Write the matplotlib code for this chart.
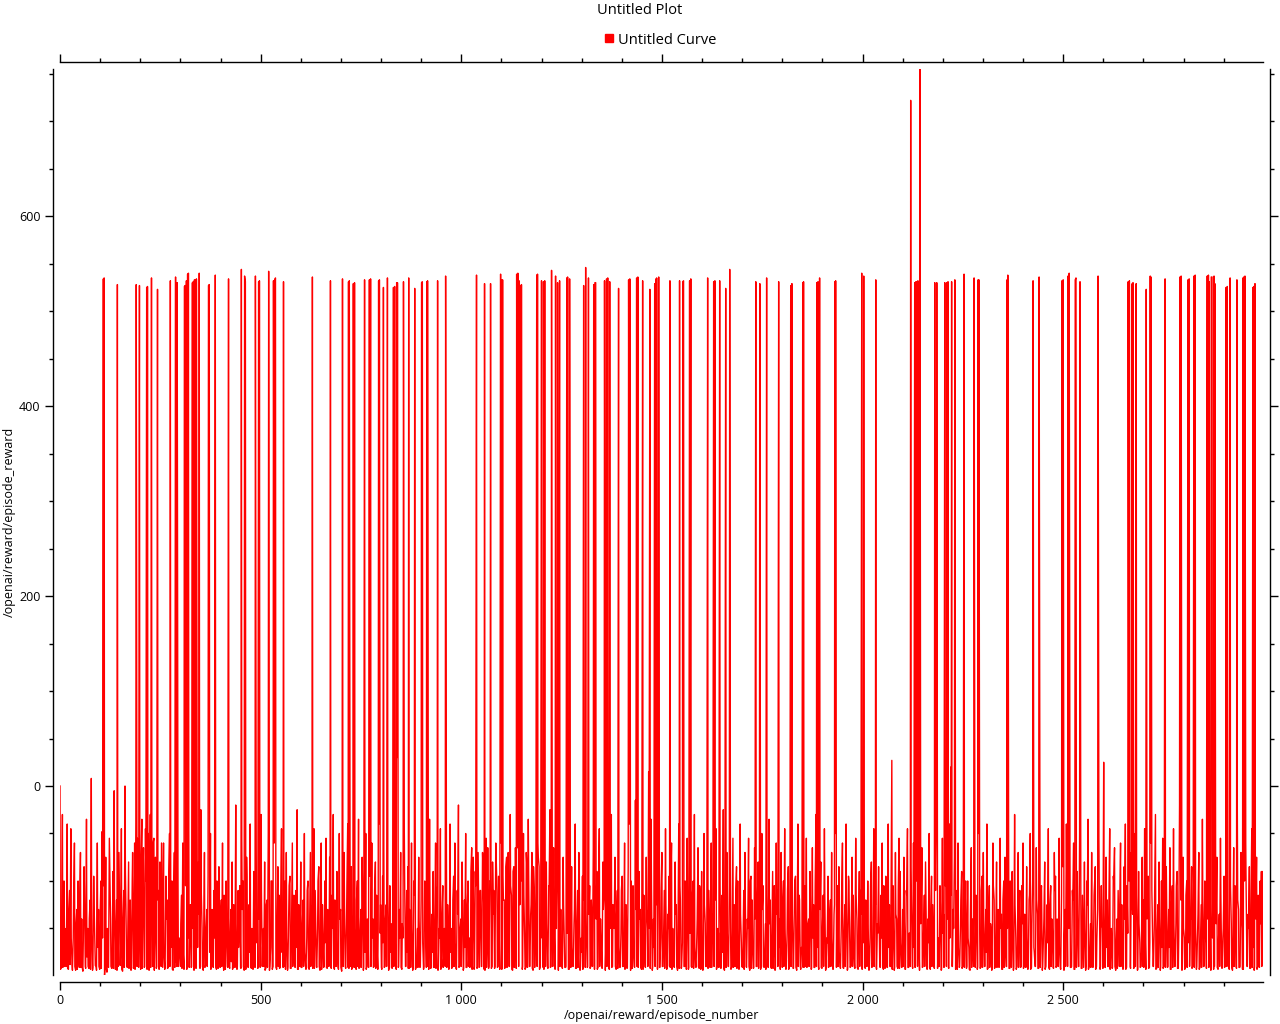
import matplotlib
matplotlib.use("Agg")
import matplotlib.pyplot as plt
import numpy as np
from matplotlib.lines import Line2D
from matplotlib.ticker import FuncFormatter, MultipleLocator

BASE_STEP = 3

rewards_a = [
    0, -192, -30, -120, -190, -150, -40, -193, -110, -45, -188, -160, -60, -194, -130, -100, -191, -70, -140, -195,
    -85, -190, -35, -150, -192, -120, 8, -194, -95, -170, -190, -60, -130, -193, -100, -48, -191, -199, -75, -196,
    -190, -55, -140, -192, -90, -5, -193, -120, -160, -70, -189, -45, -195, -110, 0, -150, -191, -80, -130, -194,
    -100, -192, -60, -40, -190, -130, -50, -193, -35, -90, -191, -45, -120, -60, -194, -30, -70, -190, -55, -140,
    -192, -40, -110, -80, -190, -150, -60, -193, -95, -120, -191, -50, -170, -100, -194, -70, -140, -190, -85, -160,
    -190, -115, -60, -193, -140, -90, -195, -45, -130, -191, -100, -170, -60, -192, -120, -80, -190, -25, -150, -194,
    -70, -189, -130, -95, -192, -50, -160, -190, -110, -35, -193, -140, -85, -191, -120, -60, -194, -150, -100, -190,
    -45, -192, -130, -80, -190, -165, -20, -193, -110, -140, -191, -55, -100, -194, -150, -75, -190, -125, -40, -192,
    -160, -90, -191, -65, -135, -193, -105, -30, -190, -150, -80, -192, -120, -50, -194, -170, -100, -190, -60, -140,
    -193, -85, -115, -191, -45, -155, -190, -100, -70, -194, -130, -95, -192, -60, -170, -190, -110, -25, -193, -140,
    -80, -191, -120, -50, -190, -160, -100, -193, -70, -135, -192, -45, -110, -190, -150, -85, -194, -60, -125, -191,
    -100, -55, -192, -140, -75, -190, -115, -30, -193, -160, -90, -191, -50, -130, -195, -105, -70, -190, -145, -40,
    -192, -120, -85, -190, -60, -150, -193, -100, -35, -191, -130, -75, -194, -110, -50, -190, -165, -90, -192, -60,
    -140, -190, -80, -115, -193, -40, -155, -191, -95, -65, -190, -125, -20, -194, -105, -145, -192, -55, -90, -190,
    30, -191, -130, -70, -193, -160, -45, -190, -110, -85, -192, -140, -60, -194, -100, -25, -190, -150, -75, -191,
    -120, -55, -193, -100, -165, -190, -80, -35, -192, -135, -90, -191, -60, -115, -194, -150, -45, -190, -105, -175,
    -190, -70, -125, -193, -40, -150, -191, -95, -60, -192, -110, -20, -190, -140, -80, -194, -120, -50, -191, -100,
    -160, -190, -65, -130, -193, -90, -45, -191, -145, -110, -190, -70, -125, -194, -55, -155, -192, -100, -80, -190,
    -135, -192, -60, -110, -190, -170, -40, -193, -95, -120, -191, -75, -150, -190, -30, -115, -194, -85, -140, -192,
    -65, -190, -125, -100, -193, -50, -160, -191, -90, -35, -190, -135, -70, -194, -110, -150, -192, -60, -85, -190,
    -120, -45, -193, -140, -80, -191, -105, -25, -190, -155, -65, -192, -115, -90, -194, -50, -130, -190, -75, -170,
    -191, -100, -55, -193, -125, -85, -190, -145, -40, -192, -110, -70, -194, -160, -95, -190, -60, -130, -191, -20,
    -105, -190, -150, -65, -193, -120, -90, -191, -45, -140, -190, -80, -115, -194, -55, -165, -192, -100, -30, -190,
    -135, -75, -193, -110, -50, -191, -155, -95, -190, -60, -125, -192, -85, -40, -194, -145, -105, -190, -15, -170,
    -191, -90, -130, -193, -55, -115, -190, -75, -150, 15, -100, -35, -194, -140, -65, -190, -120, -85, -191, -160,
    -70, -190, -110, -45, -193, -135, -95, -191, -60, -150, -190, -80, -125, -194, -40, -105, -192, -165, -70, -190,
    -115, -55, -193, -140, -85, -191, -100, -30, -190, -160, -65, -192, -120, -90, -194, -50, -145, -190, -75, -110,
    -191, -60, -135, -193, -95, -45, -190, -155, -80, -192, -115, -25, -194, -130, -70, -190, -105, -150, -191, -55,
    -125, -190, -85, -100, -193, -40, -165, -191, -110, -70, -190, -140, -55, -194, -95, -120, -192, -65, -150, -190,
    -80, -130, -193, -50, -105, -191, -145, -75, -190, -35, -120, -192, -90, -160, -194, -60, -110, -190, -140, -70,
    -191, -100, -45, -193, -155, -85, -190, -120, -60, -192, -135, -95, -194, -40, -115, -190, -170, -75, -191, -105,
    -55, -190, -140, -90, -193, -65, -125, -191, -30, -150, -190, -100, -80, -192, -115, -45, -194, -160, -95, -190,
    -120, -70, -193, -135, -50, -191, -105, -85, -190, -150, -60, -192, -125, -40, -194, -95, -165, -190, -75, -115,
    -191, -55, -140, -193, -90, -110, -190, -65, -30, -192, -130, -100, -194, -160, -80, -190, -45, -120, -191, -145,
    -85, -190, -115, -60, -193, -150, -95, -191, -40, -125, -190, 27, -105, -194, -70, -140, -192, -55, -90, -190,
    -130, -75, -193, -110, -45, -191, -155, -85, -190, -60, -120, -192, -100, -35, -194, -145, -65, -190, -115, -80,
    -191, -140, -50, -193, -95, -125, -190, -70, -20, -192, -160, -105, -194, -55, -135, -190, -85, -115, -191, -40,
    20, -190, -130, -75, -193, -110, -60, -191, -150, -90, -190, -45, -120, -192, -100, -170, -194, -65, -140, -190,
    -85, -115, -193, -50, -155, -191, -95, -70, -190, -130, -40, -192, -105, -145, -194, -60, -120, -190, -80, -165,
    -191, -55, -135, -193, -100, -75, -190, -150, -45, -192, -115, -90, -194, -30, -160, -190, -70, -125, -191, -105,
    -60, -190, -145, -85, -193, -120, -50, -191, -100, -170, -190, -65, -135, -192, -25, -110, -194, -155, -80, -190,
    -125, -45, -193, -105, -140, -191, -70, -95, -190, -160, -55, -192, -115, -85, -194, -130, -40, -190, -150, -75,
    -191, -110, -60, -193, -135, -90, -190, -50, -120, -192, -165, -80, -194, -100, -35, -190, -145, -70, -191, -115,
    -85, -190, -130, -55, -193, -105, -150, 25, -191, -75, -120, -190, -45, -160, -192, -95, -65, -194, -140, -110,
    -190, -60, -125, -193, -85, -40, -191, -155, -100, -190, -70, -135, -192, -50, -115, -194, -90, -165, -190, -75,
    -120, -45, -193, -140, -95, -191, -60, -110, -190, -150, -30, -192, -125, -80, -194, -100, -55, -190, -170, -85,
    -191, -130, -65, -193, -105, -45, -190, -145, -90, -192, -20, -120, -194, -75, -160, -190, -100, -55, -191, -135,
    -85, -190, -115, -50, -193, -150, -70, -191, -125, -35, -190, -100, -165, -192, -60, -140, -194, -90, -45, -190,
    -110, -75, -193, -135, -55, -191, -160, -95, -190, -40, -120, -192, -80, -145, -194, -65, -105, -190, -25, -130,
    -191, -70, -150, -193, -100, -60, -190, -135, -85, -192, -45, -155, -194, -115, -75, -190, -140, -100, -90, -90,
]

rewards_b = [
    -193, -150, -191, -100, -170, -190, -192, -130, -188, -160, -194, -115, -190, -145, -193, -175, -120, -191, -190, -165,
    -110, -192, -180, -190, -140, -193, -155, -191, -125, -189, -194, -170, -190, -135, -192, -160, -105, -193, -190, -150,
    -191, -85, -190, -175, -192, -130, -160, -194, -190, -110, -170, -193, -140, -191, -90, -190, -155, -192, -120, -191,
    -70, -190, -193, -110, -55, -191, -150, -80, -192, -65, -190, -100, -193, -50, -130, -191, -90, -60, -194, -75,
    -190, -120, -193, -150, -60, -191, -175, -190, -140, -192, -90, -190, -155, -193, -120, -191, -185, -110, -190, -170,
    -145, -192, -175, -190, -105, -193, -160, -191, -125, -190, -150, -194, -90, -191, -170, -135, -192, -110, -190, -160,
    -191, -150, -190, -120, -175, -193, -130, -191, -160, -190, -100, -192, -165, -140, -190, -185, -115, -193, -150, -191,
    -190, -160, -185, -193, -125, -191, -145, -190, -170, -105, -192, -130, -190, -155, -193, -95, -191, -175, -190, -150,
    -193, -120, -190, -165, -192, -140, -191, -110, -170, -190, -194, -125, -191, -155, -190, -100, -193, -180, -130, -191,
    -150, -190, -192, -120, -175, -191, -135, -193, -160, -190, -105, -192, -145, -190, -115, -191, -170, -193, -125, -190,
    -191, -145, -190, -175, -193, -110, -191, -155, -190, -125, -170, -192, -135, -191, -100, -190, -160, -193, -150, -190,
    -165, -191, -130, -190, -185, -192, -150, -191, -120, -190, -175, -193, -140, -191, -160, -190, -125, -192, -105, -191,
    -150, -190, -193, -135, -191, -170, -120, -190, -192, -155, -191, -110, -190, -175, -193, -140, -191, -95, -190, -160,
    -191, -110, -192, -170, -150, -190, -125, -193, -165, -191, -140, -190, -105, -192, -175, -191, -130, -190, -155, -193,
    -120, -190, -160, -191, -145, -193, -105, -190, -175, -192, -130, -191, -150, -190, -115, -193, -185, -191, -140, -190,
    -192, -165, -190, -130, -191, -150, -193, -120, -190, -175, -191, -140, -192, -105, -190, -160, -193, -135, -191, -150,
    -155, -191, -140, -190, -175, -192, -120, -190, -165, -193, -135, -191, -150, -190, -110, -192, -170, -191, -125, -190,
    -191, -90, -193, -75, -190, -105, -192, -70, -191, -110, -190, -85, -193, -120, -191, -65, -190, -100, -192, -80,
    -110, -190, -75, -191, -95, -193, -60, -190, -120, -192, -85, -191, -70, -190, -105, -193, -90, -191, -65, -190,
    -191, -100, -192, -80, -190, -115, -193, -70, -191, -95, -190, -125, -192, -85, -191, -110, -190, -75, -193, -140,
    -160, -191, -120, -190, -145, -192, -105, -191, -170, -190, -135, -193, -150, -191, -115, -190, -165, -192, -125, -191,
    -190, -155, -193, -110, -191, -170, -190, -130, -192, -145, -191, -100, -190, -175, -193, -120, -191, -160, -190, -135,
    -192, -120, -190, -165, -191, -140, -193, -105, -190, -155, -192, -130, -191, -175, -190, -115, -193, -150, -191, -125,
    -150, -190, -135, -192, -170, -191, -110, -190, -160, -193, -125, -191, -145, -190, -100, -192, -175, -191, -130, -190,
    -191, -140, -190, -115, -193, -165, -191, -130, -190, -150, -192, -105, -191, -170, -190, -125, -193, -155, -191, -110,
    -190, -165, -192, -125, -191, -150, -190, -110, -193, -175, -191, -135, -190, -160, -192, -120, -191, -145, -190, -100,
    -193, -130, -191, -155, -190, -115, -192, -170, -191, -140, -190, -105, -193, -160, -191, -125, -190, -150, -192, -135,
    -140, -191, -165, -190, -120, -193, -150, -191, -105, -190, -175, -192, -130, -191, -155, -190, -115, -193, -145, -191,
    -190, -110, -192, -160, -191, -135, -190, -170, -193, -125, -191, -150, -190, -100, -192, -165, -191, -140, -190, -120,
    -192, -155, -191, -130, -190, -175, -193, -115, -191, -145, -190, -160, -192, -105, -191, -135, -190, -170, -193, -125,
    -125, -190, -150, -191, -110, -193, -165, -190, -135, -192, -100, -191, -155, -190, -120, -193, -175, -191, -140, -190,
    -191, -145, -190, -120, -192, -160, -191, -105, -190, -170, -193, -130, -191, -150, -190, -115, -192, -165, -191, -135,
    -190, -160, -193, -125, -191, -140, -190, -175, -192, -110, -191, -155, -190, -130, -193, -100, -191, -145, -190, -170,
    -192, -115, -191, -150, -190, -135, -193, -165, -191, -120, -190, -145, -192, -105, -191, -175, -190, -125, -193, -155,
    -130, -191, -160, -190, -105, -192, -145, -191, -170, -190, -120, -193, -150, -191, -135, -190, -110, -192, -165, -191,
    -190, -140, -193, -115, -191, -155, -190, -125, -192, -170, -191, -100, -190, -150, -193, -135, -191, -160, -190, -120,
    -193, -165, -191, -130, -190, -145, -192, -110, -191, -175, -190, -125, -193, -155, -191, -105, -190, -140, -192, -160,
    -115, -190, -150, -191, -135, -193, -170, -190, -120, -192, -145, -191, -100, -190, -160, -193, -130, -191, -155, -190,
    -191, -125, -190, -165, -192, -110, -191, -140, -190, -175, -193, -135, -191, -150, -190, -105, -192, -160, -191, -130,
    -190, -150, -193, -120, -191, -170, -190, -135, -192, -100, -191, -155, -190, -125, -193, -165, -191, -110, -190, -145,
    -192, -135, -191, -160, -190, -115, -193, -145, -191, -175, -190, -120, -192, -155, -191, -105, -190, -140, -193, -170,
    -165, -191, -125, -190, -150, -192, -110, -191, -140, -190, -170, -193, -130, -191, -160, -190, -100, -192, -145, -191,
    -190, -120, -193, -155, -191, -135, -190, -165, -192, -115, -191, -150, -190, -125, -193, -175, -191, -140, -190, -105,
    -193, -160, -191, -110, -190, -145, -192, -130, -191, -170, -190, -120, -193, -150, -191, -100, -190, -165, -192, -135,
    -125, -190, -155, -191, -140, -193, -105, -190, -170, -192, -130, -191, -160, -190, -115, -193, -145, -191, -175, -190,
    -191, -150, -190, -120, -192, -165, -191, -135, -190, -110, -193, -155, -191, -140, -190, -170, -192, -100, -191, -130,
    -190, -170, -193, -125, -191, -145, -190, -105, -192, -160, -191, -130, -190, -150, -193, -115, -191, -165, -190, -140,
    -192, -110, -191, -150, -190, -135, -193, -170, -191, -120, -190, -155, -192, -140, -191, -100, -190, -160, -193, -125,
    -145, -191, -165, -190, -115, -192, -150, -191, -130, -190, -175, -193, -105, -191, -155, -190, -140, -192, -120, -191,
    -190, -135, -193, -160, -191, -110, -190, -150, -192, -125, -191, -170, -190, -140, -193, -115, -191, -145, -190, -95,
]

spike_episodes = [
    108, 110, 143, 190, 198, 216, 218, 228, 243, 275, 288, 290, 292, 310, 312, 315, 318, 320,
    330, 332, 335, 338, 340, 347, 370, 372, 387, 420, 452, 460, 462, 487, 495, 497, 520, 532,
    535, 537, 557, 629, 674, 704, 719, 721, 731, 734, 759, 771, 774, 794, 796, 806, 816, 831,
    834, 839, 841, 856, 869, 884, 901, 903, 914, 916, 941, 961, 1038, 1058, 1073, 1098, 1100,
    1103, 1138, 1141, 1144, 1147, 1150, 1188, 1190, 1200, 1205, 1208, 1225, 1235, 1240, 1245,
    1263, 1265, 1270, 1305, 1310, 1317, 1330, 1333, 1335, 1357, 1362, 1365, 1370, 1392, 1417,
    1420, 1437, 1440, 1452, 1470, 1482, 1485, 1487, 1492, 1520, 1544, 1552, 1554, 1569, 1572,
    1614, 1629, 1632, 1644, 1659, 1669, 1734, 1744, 1761, 1791, 1821, 1824, 1851, 1853, 1886,
    1889, 1893, 1931, 1933, 1998, 2003, 2033, 2120, 2130, 2133, 2136, 2138, 2143, 2180, 2185,
    2205, 2210, 2213, 2222, 2230, 2253, 2278, 2288, 2290, 2360, 2362, 2425, 2440, 2497, 2500,
    2512, 2515, 2530, 2532, 2542, 2587, 2662, 2665, 2672, 2674, 2682, 2707, 2717, 2719, 2754,
    2791, 2794, 2811, 2814, 2826, 2829, 2859, 2862, 2864, 2869, 2871, 2876, 2878, 2906, 2909,
    2916, 2933, 2948, 2950, 2953, 2973, 2975, 2978,
]
spike_rewards = [
    534, 535, 528, 528, 527, 525, 526, 535, 523, 532, 536, 528, 530, 526, 527, 532, 539, 540,
    530, 531, 533, 533, 534, 540, 527, 528, 538, 534, 544, 537, 531, 537, 531, 532, 542, 532,
    533, 535, 531, 536, 532, 534, 531, 532, 529, 530, 533, 533, 534, 532, 533, 525, 535, 525,
    526, 530, 530, 531, 535, 524, 530, 531, 531, 532, 532, 537, 538, 529, 529, 539, 533,
    533, 539, 540, 532, 527, 528, 538, 539, 532, 531, 532, 543, 537, 530, 532,
    535, 536, 534, 527, 546, 535, 528, 530, 530, 532, 534, 535, 531, 524, 533,
    534, 535, 536, 532, 523, 529, 534, 535, 536, 532, 532, 531, 532, 532, 534,
    535, 531, 532, 532, 524, 544, 531, 529, 535, 531, 527, 529, 530, 531, 530,
    531, 535, 531, 532, 540, 537, 533, 722, 530, 531, 531, 532, 755, 530, 530,
    530, 530, 531, 531, 533, 539, 535, 533, 533, 533, 538, 532, 536, 532, 533,
    537, 540, 533, 535, 531, 537, 531, 532, 529, 530, 529, 523, 537, 536, 534,
    536, 537, 533, 534, 537, 538, 537, 538, 531, 536, 536, 537, 529, 525, 526,
    535, 533, 535, 536, 537, 525, 526, 529,
]

# merge the passes; a spike episode replaces whatever sits in that slot
series = {i * BASE_STEP: r for i, r in enumerate(rewards_a)}
series.update({i * BASE_STEP + 1: r for i, r in enumerate(rewards_b)})
series.update(dict(zip(spike_episodes, spike_rewards)))
episode_number = np.array(sorted(series))
episode_reward = np.array([series[e] for e in episode_number])

plt.rcParams["font.family"] = ["Open Sans", "DejaVu Sans"]
plt.rcParams["font.size"] = 9

fig = plt.figure(figsize=(12.8, 10.24), dpi=100)
ax = fig.add_axes([60 / 1280, 49 / 1024, 1203 / 1280, 906 / 1024])

ax.plot(episode_number, episode_reward, color="#ff0000", lw=1.0)
ax.set_xlim(0, episode_number.max())
ax.set_ylim(episode_reward.min(), episode_reward.max())

for side in ("left", "right", "top", "bottom"):
    ax.spines[side].set_position(("outward", 5))
    ax.spines[side].set_linewidth(1.0)

ax.xaxis.set_major_locator(MultipleLocator(500))
ax.xaxis.set_minor_locator(MultipleLocator(100))
ax.yaxis.set_major_locator(MultipleLocator(200))
ax.yaxis.set_minor_locator(MultipleLocator(50))
ax.xaxis.set_major_formatter(FuncFormatter(lambda v, _: f"{int(v):,}".replace(",", " ")))
ax.tick_params(which="both", direction="out", top=True, right=True, labelsize=9)
ax.tick_params(which="major", length=6, width=1, pad=3)
ax.tick_params(which="minor", length=3, width=1)

ax.set_xlabel("/openai/reward/episode_number", fontsize=9, labelpad=1)
ax.set_ylabel("/openai/reward/episode_reward", fontsize=9, labelpad=2)

fig.text(0.5, 1 - 11 / 1024, "Untitled Plot", ha="center", va="center", fontsize=10.5)
handle = Line2D([], [], color="#ff0000", marker="s", linestyle="none", markersize=6)
fig.legend([handle], ["Untitled Curve"], loc="center", bbox_to_anchor=(0.515, 1 - 40 / 1024),
           frameon=False, fontsize=10.5, handletextpad=0.1, handlelength=1.0)

fig.savefig("out.png", dpi=100)
